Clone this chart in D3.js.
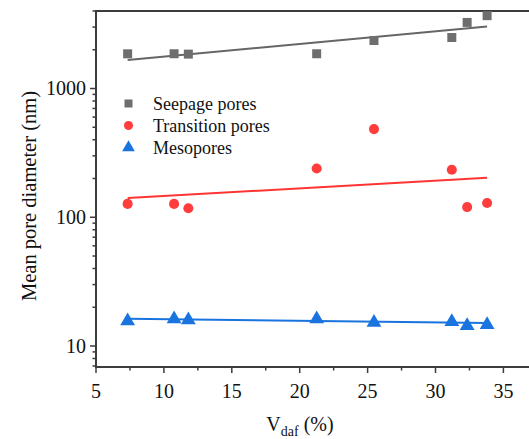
<!DOCTYPE html>
<html>
<head>
<meta charset="utf-8">
<script src="https://cdn.jsdelivr.net/npm/d3@7"></script>
<style>
  body { margin: 0; background: #fff; }
  text { font-family: "Liberation Serif", "Times New Roman", serif; fill: #111; }
</style>
</head>
<body>
<svg id="chart" width="529" height="439"></svg>
<script>
// Data
var vdaf = [7.33, 10.75, 11.8, 21.25, 25.47, 31.2, 32.33, 33.8];
var seepage = [1860, 1862, 1850, 1862, 2360, 2490, 3260, 3680];
var transition = [127, 127, 117.5, 239, 484, 234, 120, 129];
var mesopores = [15.9, 16.5, 16.2, 16.5, 15.5, 15.7, 14.6, 14.9];

// fitted lines, endpoints
var fitX = [7.33, 33.8];
var seepageFit = [1664, 3037];
var transitionFit = [141, 203];
var mesoporesFit = [16.3, 15.1];

var xTicks = [5, 10, 15, 20, 25, 30, 35];
var yTicks = [10, 100, 1000];

var series = [
  { name: "Seepage pores", values: seepage, fit: seepageFit, color: "#6e6e6e", line: "#666666", shape: "square" },
  { name: "Transition pores", values: transition, fit: transitionFit, color: "#ff3d3d", line: "#ff3535", shape: "circle" },
  { name: "Mesopores", values: mesopores, fit: mesoporesFit, color: "#1a74e0", line: "#1a74e0", shape: "triangle" }
];

var svg = d3.select("#chart");
var plotLeft = 96, plotTop = 11, plotBottom = 367;

var x = d3.scaleLinear().domain([5, 37.5]).range([plotLeft, plotLeft + 32.5 * 13.58]);
var y = d3.scaleLog().domain([6.87, 4000]).range([plotBottom, plotTop]);

var axisColor = "#3c3c3c";

// minor ticks on log axis
var minorY = [];
[1, 10, 100, 1000].forEach(function (d) {
  for (var k = 2; k <= 9; k++) {
    var v = d * k;
    if (v >= 6.87 && v <= 4000) minorY.push(v);
  }
});
var minorX = [7.5, 12.5, 17.5, 22.5, 27.5, 32.5, 37.5];

var g = svg.append("g");

// frame lines (left, bottom, top)
g.append("line").attr("x1", plotLeft).attr("x2", plotLeft).attr("y1", plotTop - 1).attr("y2", plotBottom + 1)
  .attr("stroke", axisColor).attr("stroke-width", 2);
g.append("line").attr("x1", plotLeft - 1).attr("x2", 529).attr("y1", plotBottom).attr("y2", plotBottom)
  .attr("stroke", axisColor).attr("stroke-width", 2);
g.append("line").attr("x1", plotLeft - 1).attr("x2", 529).attr("y1", plotTop).attr("y2", plotTop)
  .attr("stroke", axisColor).attr("stroke-width", 2);

// y ticks
g.selectAll(".ymaj").data(yTicks).enter().append("line")
  .attr("x1", plotLeft - 6).attr("x2", plotLeft).attr("y1", function (d) { return y(d); }).attr("y2", function (d) { return y(d); })
  .attr("stroke", axisColor).attr("stroke-width", 1.5);
g.selectAll(".ymin").data(minorY).enter().append("line")
  .attr("x1", plotLeft - 3.5).attr("x2", plotLeft).attr("y1", function (d) { return y(d); }).attr("y2", function (d) { return y(d); })
  .attr("stroke", axisColor).attr("stroke-width", 1.5);
g.selectAll(".ylab").data(yTicks).enter().append("text")
  .attr("x", plotLeft - 10).attr("y", function (d) { return y(d); }).attr("dy", "0.34em")
  .attr("text-anchor", "end").style("font-size", "20px").text(function (d) { return d; });

// x ticks
g.selectAll(".xmaj").data(xTicks).enter().append("line")
  .attr("x1", function (d) { return x(d); }).attr("x2", function (d) { return x(d); })
  .attr("y1", plotBottom).attr("y2", plotBottom + 6).attr("stroke", axisColor).attr("stroke-width", 1.5);
g.selectAll(".xmin").data(minorX).enter().append("line")
  .attr("x1", function (d) { return x(d); }).attr("x2", function (d) { return x(d); })
  .attr("y1", plotBottom).attr("y2", plotBottom + 3.5).attr("stroke", axisColor).attr("stroke-width", 1.5);
g.selectAll(".xlab").data(xTicks).enter().append("text")
  .attr("x", function (d) { return x(d); }).attr("y", plotBottom + 31)
  .attr("text-anchor", "middle").style("font-size", "20px").text(function (d) { return d; });

// axis titles
var xt = svg.append("text").attr("x", 300).attr("y", 431).attr("text-anchor", "middle").style("font-size", "20px");
xt.append("tspan").text("V");
xt.append("tspan").attr("dy", 5).style("font-size", "14px").text("daf");
xt.append("tspan").attr("dy", -5).text(" (%)");

svg.append("text").attr("transform", "translate(36,196) rotate(-90)")
  .attr("text-anchor", "middle").style("font-size", "20.5px").text("Mean pore diameter (nm)");

// fit lines
var line = d3.line().x(function (d) { return x(d[0]); }).y(function (d) { return y(d[1]); });
series.forEach(function (s) {
  svg.append("path").datum(fitX.map(function (xv, i) { return [xv, s.fit[i]]; }))
    .attr("d", line).attr("fill", "none").attr("stroke", s.line).attr("stroke-width", 2);
});

// markers
var symbols = { square: d3.symbolSquare, circle: d3.symbolCircle, triangle: d3.symbolTriangle };
var sizes = { square: 81, circle: 80, triangle: 95 };
series.forEach(function (s) {
  svg.selectAll(null).data(s.values).enter().append("path")
    .attr("transform", function (d, i) {
      var dy = s.shape === "triangle" ? 1 : 0;
      return "translate(" + x(vdaf[i]) + "," + (y(d) + dy) + ")";
    })
    .attr("d", d3.symbol().type(symbols[s.shape]).size(sizes[s.shape])())
    .attr("fill", s.color);
});

// legend
var legend = svg.append("g");
series.forEach(function (s, i) {
  var ly = 103.5 + i * 22;
  legend.append("path").attr("transform", "translate(128.5," + ly + ")")
    .attr("d", d3.symbol().type(symbols[s.shape]).size(s.shape === "triangle" ? 70 : 64)())
    .attr("fill", s.color);
  legend.append("text").attr("x", 153).attr("y", ly).attr("dy", "0.34em")
    .style("font-size", "18px").text(s.name);
});
</script>
</body>
</html>
